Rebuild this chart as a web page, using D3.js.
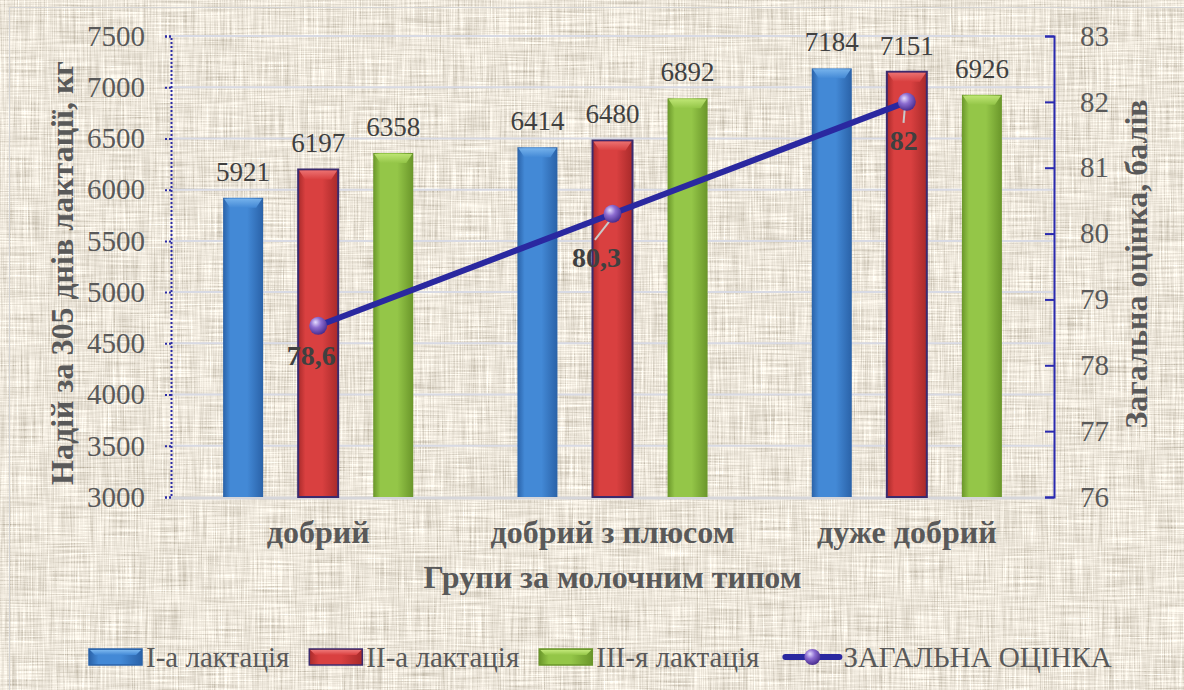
<!DOCTYPE html>
<html><head><meta charset="utf-8">
<script src="https://cdn.jsdelivr.net/npm/d3@7"></script>
<style>html,body{margin:0;padding:0;background:#fff;}svg{display:block;}</style>
</head><body>
<svg id="chart" width="1184" height="690"></svg>
<script>
// ---- data ----
const categories = ["добрий", "добрий з плюсом", "дуже добрий"];
const seriesNames = ["І-а лактація", "ІІ-а лактація", "ІІІ-я лактація"];
const lact1 = [5921, 6414, 7184];
const lact2 = [6197, 6480, 7151];
const lact3 = [6358, 6892, 6926];
const totalScore = [78.6, 80.3, 82];
const totalScoreLabels = ["78,6", "80,3", "82"];
const lineName = "ЗАГАЛЬНА ОЦІНКА";
const leftTicks = [3000, 3500, 4000, 4500, 5000, 5500, 6000, 6500, 7000, 7500];
const rightTicks = [76, 77, 78, 79, 80, 81, 82, 83];
const leftTitle = "Надій за 305 днів лактації, кг";
const rightTitle = "Загальна оцінка, балів";
const xTitle = "Групи за молочним типом";

const seriesValues = [lact1, lact2, lact3];
const colors = [
  {edge:"#2a62a8", mid:"#4389d6", top:"#7ab6ee", stroke:"none"},
  {edge:"#a82a2a", mid:"#d94040", top:"#ee7676", stroke:"#3b2b6e"},
  {edge:"#6a962a", mid:"#94c648", top:"#c2e878", stroke:"none"}
];

const svg = d3.select("#chart");
const W = 1184, H = 690;
const plot = {l: 171, r: 1054, t: 36, b: 497};
const serif = "Liberation Serif, Times New Roman, serif";

// ---- defs ----
const defs = svg.append("defs");
const f = defs.append("filter").attr("id","linen").attr("x",0).attr("y",0).attr("width",W).attr("height",H)
  .attr("filterUnits","userSpaceOnUse");
f.append("feTurbulence").attr("type","fractalNoise").attr("baseFrequency","0.7 0.02").attr("numOctaves",2).attr("seed",3).attr("result","h");
f.append("feTurbulence").attr("type","fractalNoise").attr("baseFrequency","0.02 0.7").attr("numOctaves",2).attr("seed",9).attr("result","v");
f.append("feComposite").attr("in","h").attr("in2","v").attr("operator","arithmetic").attr("k2",0.5).attr("k3",0.5).attr("result","n");
f.append("feColorMatrix").attr("in","n").attr("type","matrix")
  .attr("values","1.1 0 0 0 0.29  1.1 0 0 0 0.24  1.1 0 0 0 0.15  0 0 0 0 1");

colors.forEach((c,i)=>{
  const g = defs.append("linearGradient").attr("id","bar"+i).attr("x1","0").attr("x2","1").attr("y1","0").attr("y2","0");
  g.append("stop").attr("offset","0").attr("stop-color",c.edge);
  g.append("stop").attr("offset","0.18").attr("stop-color",c.mid);
  g.append("stop").attr("offset","0.6").attr("stop-color",c.mid);
  g.append("stop").attr("offset","1").attr("stop-color",c.edge);
  const t = defs.append("linearGradient").attr("id","top"+i).attr("x1","0").attr("x2","0").attr("y1","0").attr("y2","1");
  t.append("stop").attr("offset","0").attr("stop-color",c.top);
  t.append("stop").attr("offset","1").attr("stop-color",c.mid);
});
const rg = defs.append("radialGradient").attr("id","ball").attr("cx","0.4").attr("cy","0.35").attr("r","0.65").attr("fx","0.35").attr("fy","0.3");
rg.append("stop").attr("offset","0").attr("stop-color","#e4dcff");
rg.append("stop").attr("offset","0.45").attr("stop-color","#8c6cd0");
rg.append("stop").attr("offset","1").attr("stop-color","#4a2e90");

// ---- background ----
svg.append("rect").attr("x",9).attr("y",7).attr("width",W-9).attr("height",H-7).attr("fill","#d6cbb5");
svg.append("rect").attr("x",9).attr("y",7).attr("width",W-9).attr("height",H-7).attr("filter","url(#linen)");
svg.append("rect").attr("x",9.5).attr("y",7.5).attr("width",W-9).attr("height",H-7).attr("fill","none").attr("stroke","#d4d4d4");

// ---- scales ----
const x0 = d3.scaleBand().domain(categories).range([plot.l, plot.r]).paddingInner(0.354).paddingOuter(0.177);
const x1 = d3.scaleBand().domain(seriesNames).range([0, x0.bandwidth()]).paddingInner(0.467);
const yL = d3.scaleLinear().domain([3000, 7500]).range([plot.b, plot.t]);
const yR = d3.scaleLinear().domain([76, 83]).range([plot.b, plot.t]);

// ---- gridlines ----
svg.append("g").selectAll("line").data(leftTicks.filter(d=>d>3000)).join("line")
  .attr("x1",plot.l).attr("x2",plot.r).attr("y1",d=>yL(d)).attr("y2",d=>yL(d))
  .attr("stroke","#d8dae4").attr("stroke-width",2);
svg.append("line").attr("x1",plot.l).attr("x2",plot.r).attr("y1",plot.b+1).attr("y2",plot.b+1)
  .attr("stroke","#d6d6da").attr("stroke-width",3);

// ---- bars ----
const barData = [];
categories.forEach((c,ci)=>seriesNames.forEach((s,si)=>barData.push({c, s, si, v: seriesValues[si][ci]})));
const bars = svg.append("g").selectAll("g").data(barData).join("g");
bars.append("rect")
  .attr("x",d=>x0(d.c)+x1(d.s)).attr("width",x1.bandwidth())
  .attr("y",d=>yL(d.v)).attr("height",d=>plot.b-yL(d.v))
  .attr("fill",d=>`url(#bar${d.si})`)
  .attr("stroke",d=>colors[d.si].stroke).attr("stroke-width",2);
bars.append("path")
  .attr("d",d=>{const x=x0(d.c)+x1(d.s), w=x1.bandwidth(), y=yL(d.v);
    return `M${x+1},${y+1}H${x+w-1}L${x+w-7},${y+10}H${x+7}Z`;})
  .attr("fill",d=>`url(#top${d.si})`).attr("opacity",0.9);
bars.append("text")
  .attr("x",d=>x0(d.c)+x1(d.s)+x1.bandwidth()/2).attr("y",d=>yL(d.v)-17)
  .attr("text-anchor","middle").attr("font-family",serif).attr("font-size",27).attr("fill","#404040")
  .text(d=>d.v);

// ---- axes ----
const axL = svg.append("g").attr("transform",`translate(${plot.l},0)`)
  .call(d3.axisLeft(yL).tickValues(leftTicks).tickSize(6).tickPadding(20).tickFormat(d3.format("d")));
axL.attr("font-family",serif);
axL.select(".domain").attr("stroke","#2b2ba6").attr("stroke-width",2).attr("stroke-dasharray","2,2");
axL.selectAll(".tick line").attr("stroke","#2b2ba6").attr("stroke-width",2).attr("stroke-dasharray","2,2");
axL.selectAll(".tick text").attr("font-family",serif).attr("font-size",29).attr("fill","#595959");

const axR = svg.append("g").attr("transform",`translate(${plot.r},0)`)
  .call(d3.axisRight(yR).tickValues(rightTicks).tickSizeInner(-9).tickSizeOuter(-9).tickPadding(26).tickFormat(d3.format("d")));
axR.attr("font-family",serif);
axR.select(".domain").attr("stroke","#2b2bb0").attr("stroke-width",2);
axR.selectAll(".tick line").attr("stroke","#2b2bb0").attr("stroke-width",2);
axR.selectAll(".tick text").attr("font-family",serif).attr("font-size",29).attr("fill","#595959");

// category labels
svg.append("g").selectAll("text").data(categories).join("text")
  .attr("x",d=>x0(d)+x0.bandwidth()/2).attr("y",543)
  .attr("text-anchor","middle").attr("font-family",serif).attr("font-weight","bold")
  .attr("font-size",32).attr("fill","#595959").text(d=>d);

// axis titles
svg.append("text").attr("transform",`translate(73,273) rotate(-90)`).attr("text-anchor","middle")
  .attr("font-family",serif).attr("font-weight","bold").attr("font-size",32).attr("fill","#595959").text(leftTitle);
svg.append("text").attr("transform",`translate(1147,264) rotate(-90)`).attr("text-anchor","middle")
  .attr("font-family",serif).attr("font-weight","bold").attr("font-size",32).attr("fill","#595959").text(rightTitle);
svg.append("text").attr("x",(plot.l+plot.r)/2).attr("y",588).attr("text-anchor","middle")
  .attr("font-family",serif).attr("font-weight","bold").attr("font-size",32).attr("fill","#595959").text(xTitle);

// ---- line ----
const pts = categories.map((c,i)=>({c, v: totalScore[i], lab: totalScoreLabels[i],
  x: x0(c)+x0.bandwidth()/2, y: yR(totalScore[i])}));
svg.append("path").datum(pts)
  .attr("d", d3.line().x(d=>d.x).y(d=>d.y))
  .attr("fill","none").attr("stroke","#2a28a0").attr("stroke-width",6).attr("stroke-linecap","round");
const labOff = [{dx:-7, dy:39, lead:false},{dx:-16, dy:53, lead:true},{dx:-3, dy:48, lead:true}];
svg.append("g").selectAll("line").data(pts.filter((d,i)=>labOff[i].lead)).join("line")
  .attr("x1",d=>d.x-2).attr("y1",d=>d.y+6)
  .attr("x2",d=>{const o=labOff[pts.indexOf(d)]; return d.x+o.dx*1.1;})
  .attr("y2",d=>{const o=labOff[pts.indexOf(d)]; return d.y+o.dy-27;})
  .attr("stroke","#c9c9c9").attr("stroke-width",2);
svg.append("g").selectAll("circle").data(pts).join("circle")
  .attr("cx",d=>d.x).attr("cy",d=>d.y).attr("r",9).attr("fill","url(#ball)");
svg.append("g").selectAll("text").data(pts).join("text")
  .attr("x",(d,i)=>d.x+labOff[i].dx).attr("y",(d,i)=>d.y+labOff[i].dy)
  .attr("text-anchor","middle").attr("font-family",serif).attr("font-weight","bold")
  .attr("font-size",28).attr("fill","#404040").text(d=>d.lab);

// ---- legend ----
const legY = 657;
const leg = svg.append("g");
let lx = 89;
const legItems = seriesNames.map((s,i)=>({name:s, type:"bar", i})).concat([{name:lineName, type:"line"}]);
legItems.forEach(it=>{
  if (it.type === "bar") {
    const c = colors[it.i];
    leg.append("rect").attr("x",lx).attr("y",legY-8).attr("width",53).attr("height",16)
      .attr("fill",`url(#bar${it.i})`).attr("stroke",c.stroke==="none"?c.edge:c.stroke).attr("stroke-width",1.5);
    leg.append("path").attr("d",`M${lx+1},${legY-7}H${lx+52}L${lx+47},${legY-2}H${lx+6}Z`).attr("fill",`url(#top${it.i})`);
    lx += 57;
  } else {
    lx += 4;
    leg.append("line").attr("x1",lx+2).attr("x2",lx+56).attr("y1",legY).attr("y2",legY)
      .attr("stroke","#2a28a0").attr("stroke-width",6).attr("stroke-linecap","round");
    leg.append("circle").attr("cx",lx+29).attr("cy",legY).attr("r",8).attr("fill","url(#ball)");
    lx += 60;
  }
  const t = leg.append("text").attr("x",lx).attr("y",legY+10).attr("font-family",serif)
    .attr("font-size",29).attr("fill","#595959").text(it.name);
  lx += t.node().getComputedTextLength() + 20;
});
</script>
</body></html>
